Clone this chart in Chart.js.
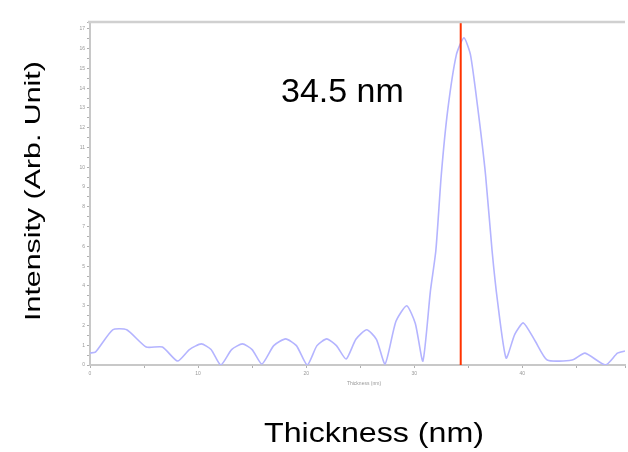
<!DOCTYPE html>
<html>
<head>
<meta charset="utf-8">
<script src="https://cdn.jsdelivr.net/npm/chart.js@4"></script>
<style>
  body { margin: 0; background: #fff; }
  #wrap { width: 628px; height: 452px; position: relative; }
</style>
</head>
<body>
<div id="wrap"><canvas id="myChart"></canvas></div>
<script>
// thickness (nm) and intensity
const thicknessNm = [0, 0.5, 2.1, 3.4, 5.2, 6.7, 8.1, 9.2, 10.3, 11.2, 12.1, 13.1, 14.1, 15.0, 15.9,
  17.0, 18.1, 19.1, 20.1, 21.0, 21.9, 22.8, 23.7, 24.6, 25.6, 26.5, 27.3, 28.3, 29.3, 30.1, 30.8,
  31.5, 32.0, 32.5, 33.1, 33.9, 34.6, 35.2, 35.9, 36.6, 37.2, 37.7, 38.5, 39.3, 40.1, 41.2, 42.3,
  44.6, 45.8, 47.7, 48.8, 49.5];
const intensity = [0.61, 0.65, 1.78, 1.78, 0.91, 0.91, 0.2, 0.78, 1.07, 0.78, 0, 0.78, 1.07, 0.78, 0.05,
  0.98, 1.32, 0.98, 0, 0.98, 1.32, 0.98, 0.3, 1.3, 1.78, 1.3, 0.05, 2.2, 3.0, 2.1, 0.2,
  3.76, 5.79, 9.6, 12.9, 15.7, 16.55, 15.7, 12.9, 9.6, 5.79, 3.25, 0.35, 1.55, 2.13, 1.2, 0.25,
  0.25, 0.6, 0, 0.6, 0.71];
const markerNm = 34.3;
const markerLabel = '34.5 nm';
const xTitle = 'Thickness (nm)';
const yTitle = 'Intensity (Arb. Unit)';
const xMax = 49.5;
const yMax = 17.35;

const points = thicknessNm.map((t, i) => ({ x: t, y: intensity[i] }));

const textPlugin = {
  id: 'texts',
  afterDraw(chart) {
    const c = chart.ctx;
    const a = chart.chartArea;
    c.save();
    // top frame line
    c.strokeStyle = '#d0d0d0';
    c.lineWidth = 2.5;
    c.beginPath();
    c.moveTo(a.left - 2, a.top);
    c.lineTo(a.right, a.top);
    c.stroke();

    c.fillStyle = '#000';
    c.font = '34px "Liberation Sans", Arial, sans-serif';
    c.textBaseline = 'alphabetic';
    c.textAlign = 'left';
    c.fillText(markerLabel, 281, 102);

    c.save();
    c.translate(374, 442);
    c.scale(1.15, 1);
    c.font = '28px "Liberation Sans", Arial, sans-serif';
    c.textAlign = 'center';
    c.fillText(xTitle, 0, 0);
    c.restore();

    c.save();
    c.translate(40, 191);
    c.rotate(-Math.PI / 2);
    c.scale(1.38, 1);
    c.font = '22px "Liberation Sans", Arial, sans-serif';
    c.textAlign = 'center';
    c.fillText(yTitle, 0, 0);
    c.restore();

    // tiny axis caption
    c.fillStyle = '#999';
    c.font = '5px "Liberation Sans", Arial, sans-serif';
    c.textAlign = 'center';
    c.fillText(xTitle, 364, 385);
    c.restore();
  }
};

new Chart(document.getElementById('myChart'), {
  type: 'line',
  data: {
    datasets: [{
      data: [{ x: markerNm, y: 0 }, { x: markerNm, y: yMax }],
      borderColor: '#ff3300',
      borderWidth: 2,
      pointRadius: 0,
      order: 0
    }, {
      data: points,
      borderColor: '#b4b4ff',
      borderWidth: 1.6,
      pointRadius: 0,
      tension: 0.2,
      order: 1
    }]
  },
  options: {
    responsive: true,
    maintainAspectRatio: false,
    animation: false,
    layout: { padding: { top: 22, right: 0, left: 0, bottom: 0 } },
    plugins: { legend: { display: false }, tooltip: { enabled: false } },
    scales: {
      x: {
        type: 'linear',
        min: 0,
        max: xMax,
        afterFit(s) { s.height = 87; },
        border: { color: '#c8c8c8', width: 2 },
        grid: { drawOnChartArea: false, tickLength: 3, color: '#b0b0b0' },
        ticks: {
          stepSize: 5,
          autoSkip: false,
          maxRotation: 0,
          padding: 3,
          color: '#999',
          font: { size: 5 },
          callback: v => (v % 10 === 0 ? v : '')
        }
      },
      y: {
        min: 0,
        max: yMax,
        afterFit(s) { s.width = 90; },
        border: { color: '#c8c8c8', width: 2 },
        grid: { drawOnChartArea: false, tickLength: 3, color: '#b0b0b0' },
        ticks: {
          stepSize: 0.5,
          autoSkip: false,
          padding: 2,
          color: '#999',
          font: { size: 5 },
          callback: v => (Number.isInteger(v) ? v : '')
        }
      }
    }
  },
  plugins: [textPlugin]
});
</script>
</body>
</html>
